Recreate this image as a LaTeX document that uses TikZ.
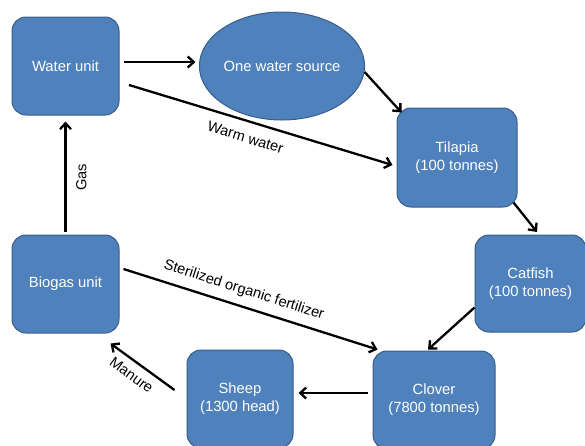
\documentclass[tikz,border=0pt]{standalone}
\usepackage{fontspec}
\setmainfont{Liberation Sans}
\usetikzlibrary{arrows.meta,calc,shapes.geometric}
\definecolor{boxfill}{RGB}{79,129,189}
\definecolor{boxline}{RGB}{56,93,138}
\begin{document}
\begin{tikzpicture}[x=1pt,y=-1pt,
  box/.style={draw=boxline, fill=boxfill, line width=1pt, rounded corners=14pt,
    text=white, align=center, font=\fontsize{14.8}{18}\selectfont, inner sep=0pt},
  oval/.style={ellipse, draw=boxline, fill=boxfill, line width=1pt,
    text=white, align=center, font=\fontsize{14.8}{18}\selectfont, inner sep=0pt},
  arr/.style={line width=2.3pt, -{Straight Barb[length=6pt,width=11pt]}},
  lbl/.style={font=\fontsize{14.6}{16}\selectfont, inner sep=0pt}]
\useasboundingbox (0,0) rectangle (585,445);

\node[box, minimum width=107pt, minimum height=98pt] (water) at (65.5,66) {Water unit};
\node[oval, minimum width=147pt, minimum height=108pt] (src) at (282,66) {One water source};
\node[box, minimum width=120pt, minimum height=99pt] (tilapia) at (457,157.5) {Tilapia\\(100 tonnes)};
\node[box, minimum width=111pt, minimum height=97pt] (catfish) at (530.5,283.5) {Catfish\\(100 tonnes)};
\node[box, minimum width=122pt, minimum height=98pt] (clover) at (434,400) {Clover\\(7800 tonnes)};
\node[box, minimum width=106pt, minimum height=98pt] (sheep) at (240,399) {Sheep\\(1300 head)};
\node[box, minimum width=107pt, minimum height=98pt] (biogas) at (65.5,284) {Biogas unit};

\draw[arr] ($(water.east)+(4,-4)$) -- ($(src.west)+(-3.5,-4)$);
\draw[arr] ($(water.east)+(9.5,19)$) -- ($(tilapia.west)+(-4,7.5)$)
  node[lbl, sloped, pos=0.46, below=10pt] (warm) {Warm water};
\draw[arr] ($(src.east)+(-0.5,6)$) -- ($(tilapia.north west)+(5,5)$);
\draw[arr] ($(tilapia.south east)+(-4,-5)$) -- ($(catfish.north)+(6.5,-2.5)$);
\draw[arr] ($(catfish.west)+(0,24)$) -- ($(clover.north)+(-6,-1)$);
\draw[arr] ($(clover.west)+(-5,-7)$) -- ($(sheep.east)+(5,-6)$);
\draw[arr] ($(sheep.west)+(-12,-9)$) -- ($(biogas.south east)+(-9,10)$)
  node[lbl, sloped, pos=0.55, below=7pt] (manure) {Manure};
\draw[arr] ($(biogas.east)+(4,-15)$) -- ($(clover.north west)+(5,-1)$)
  node[lbl, sloped, pos=0.455, above=8pt] (fert) {Sterilized organic fertilizer};
\draw[arr] ($(biogas.north)+(0,-3)$) -- ($(water.south)+(0,6)$)
  coordinate[pos=0.49] (gm);
\node[lbl, rotate=90, anchor=north] (gas) at ($(gm)+(10.5,0)$) {Gas};
\end{tikzpicture}
\end{document}
